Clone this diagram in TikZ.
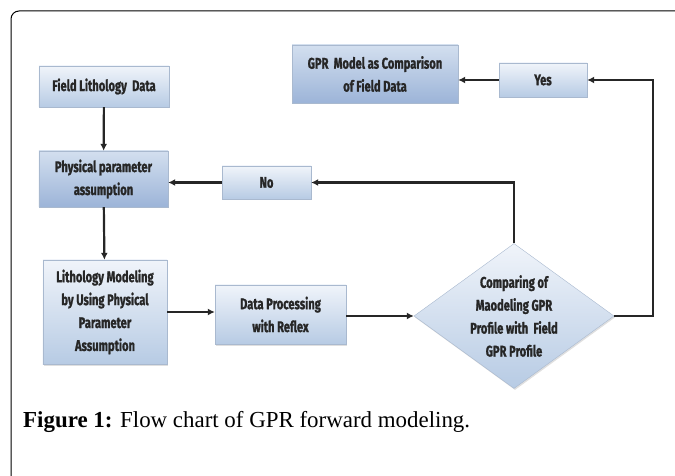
\documentclass[tikz,border=0pt]{standalone}
\usepackage{fontspec}
\setmainfont{Liberation Serif}
\newfontfamily\boxfont[FakeStretch=0.72, FakeBold=1.2]{Fira Sans}
\usepackage{xcolor}
\usetikzlibrary{positioning,calc,arrows.meta,shapes.geometric,shadows}

\definecolor{boxtop}{HTML}{F0F4FA}
\definecolor{boxbot}{HTML}{B7CBE4}
\definecolor{darktop}{HTML}{D3DFEF}
\definecolor{darkbot}{HTML}{9CB4D8}
\definecolor{boxline}{HTML}{A9B9CF}

\begin{document}
\begin{tikzpicture}[
  x=1bp, y=-1bp,
  box/.style={draw=boxline, top color=boxtop, bottom color=boxbot, align=center,
    font=\boxfont\bfseries\fontsize{15.5}{23}\selectfont, inner sep=2bp, text=black!85,
    drop shadow={opacity=0.25, shadow xshift=1bp, shadow yshift=-1.5bp}},
  darkbox/.style={box, top color=darktop, bottom color=darkbot},
  decision/.style={box, diamond, aspect=1.38, inner sep=-10bp},
  arrow/.style={-{Latex[length=7bp,width=7bp]}, line width=2.2bp, black!85}
]
\useasboundingbox (0,0) rectangle (675,476);

% outer frame
\draw[line width=1bp, rounded corners=8bp] (11,476) -- (11,11) -- (676,11);

% boxes
\node[box, minimum width=130bp, minimum height=41bp] (field) at (104,86.5) {Field Lithology\ \ Data};
\node[darkbox, minimum width=129bp, minimum height=56bp] (phys) at (103.5,179) {Physical parameter\\assumption};
\node[box, minimum width=89bp, minimum height=33bp] (no) at (266.5,182.5) {No};
\node[darkbox, minimum width=166bp, minimum height=58bp] (gpr) at (375,74) {GPR\ \ Model as Comparison\\of Field Data};
\node[box, minimum width=88bp, minimum height=34bp] (yes) at (543,80) {Yes};
\node[box, minimum width=124bp, minimum height=104bp] (litho) at (105,312) {Lithology Modeling\\by Using Physical\\Parameter\\Assumption};
\node[box, minimum width=131bp, minimum height=59bp] (proc) at (280.5,314.5) {Data Processing\\with Reflex};
\node[decision, minimum width=200bp, minimum height=145bp] (cmp) at (514,316) {Comparing of\\Maodeling GPR\\Profile with\ \ Field\\GPR Profile};

% main flow
\draw[arrow] (field) -- (phys);
\draw[arrow] (phys) -- (litho);
\draw[arrow] (litho.east) -- (litho.east -| proc.west);
\draw[arrow] (proc.east |- cmp.west) -- (cmp.west);

% decision branches
\draw[arrow] (cmp.north) |- (no.east);
\draw[arrow] (no.west) -- (no.west -| phys.east);
\draw[arrow] (cmp.east) -- ++(39,0) |- (yes.east);
\draw[arrow] (yes.west) -- (yes.west -| gpr.east);

% caption
\node[anchor=base west, inner sep=0pt, font=\fontsize{23}{28}\selectfont] (caption) at (23,427)
  {\textbf{Figure 1:} Flow chart of GPR forward modeling.};
\end{tikzpicture}
\end{document}
